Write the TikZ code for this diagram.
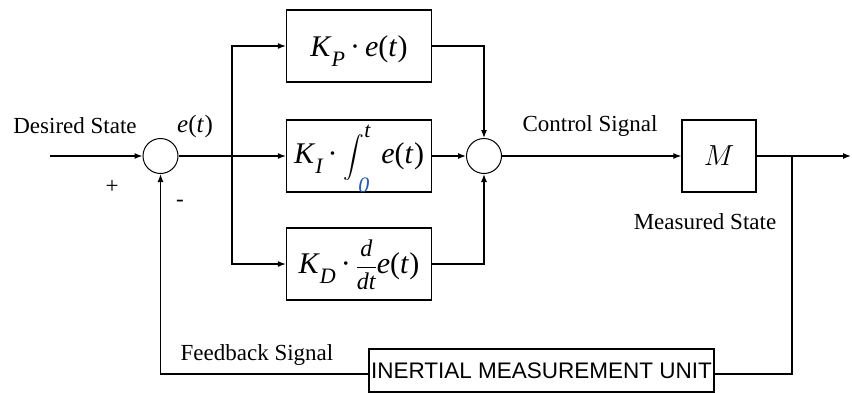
\RequirePackage{fix-cm}
\documentclass[tikz,border=0pt]{standalone}
\usepackage{amsmath}
\usepackage{fontspec}
\setmainfont{Liberation Serif}
\newfontfamily\imufont{Liberation Sans}
\usetikzlibrary{arrows.meta}
\definecolor{zeroblue}{rgb}{0.15,0.35,0.7}
\newcommand\subsz{\fontsize{22}{22}\selectfont}
\newcommand\mysub[1]{\raisebox{-10pt}{\subsz\itshape #1}}
\newcommand\myet{\textit{e}(\textit{t\kern1pt})}
\newcommand\mydot{\kern5pt\textperiodcentered\kern5pt}
\begin{document}
\begin{tikzpicture}[x=1pt,y=-1pt,
  blk/.style={draw, line width=1.3pt, minimum width=145pt, minimum height=72pt, inner sep=0pt, font=\fontsize{30}{34}\selectfont},
  sumc/.style={circle, draw, line width=1pt, minimum size=35pt, inner sep=0pt},
  wire/.style={line width=1.2pt},
  arr/.style={wire, -{Latex[length=8pt,width=6pt]}},
  lbl/.style={inner sep=0pt, font=\fontsize{23}{27}\selectfont}]
\useasboundingbox (0,0) rectangle (852,392);
\coordinate (in) at (50,156);
\node[sumc] (s1) at (160.5,156) {};
\coordinate (br) at (232,156);
\node[blk, text height=30pt, text depth=10pt] (P) at (359,46) {\textit{K}\mysub{P}\mydot\myet};
\node[blk, text height=40pt, text depth=26pt] (I) at (359,156) {\textit{K}\mysub{I}\mydot\kern1pt{\fontsize{22}{22}\selectfont$\displaystyle\int$}\makebox[0pt][l]{\raisebox{26pt}{\subsz\itshape t}}\kern-6pt\raisebox{-29pt}{\subsz\color{zeroblue}\itshape 0}\kern12pt\myet};
\node[blk, text height=30pt, text depth=12pt] (D) at (359,264) {\textit{K}\mysub{D}\mydot{\fontsize{24}{24}\selectfont$\dfrac{\mbox{\itshape d}}{\mbox{\itshape dt}}$}\myet};
\node[sumc] (s2) at (484,156) {};
\node[draw, line width=1.3pt, minimum width=74pt, minimum height=72pt, inner sep=0pt, font=\fontsize{29}{32}\selectfont] (M) at (719,156) {$M$};
\coordinate (out) at (851,156);
\coordinate (tap) at (792,156);
\coordinate (fbR) at (792,374);
\coordinate (fbL) at (160.5,374);
\node[draw, line width=1.3pt, minimum width=345pt, minimum height=43pt, inner sep=0pt, font=\imufont\fontsize{22.5}{26}\selectfont] (imu) at (541.5,370.5) {INERTIAL MEASUREMENT UNIT};
% labels
\node[lbl] (ds) at (75,126) {Desired State};
\node[lbl, font=\fontsize{25}{29}\selectfont] (et) at (195,126) {\myet};
\node[lbl] (plus) at (112,187) {+};
\node[lbl] (minus) at (180,203) {-};
\node[lbl] (cs) at (590,126) {Control Signal};
\node[lbl] (ms) at (705,222) {Measured State};
\node[lbl] (fs) at (257,355) {Feedback Signal};
% connectors
\draw[arr] (in) -- (s1);
\draw[wire] (s1) -- (br);
\draw[arr] (br) -- (I);
\draw[arr] (br) |- (P);
\draw[arr] (br) |- (D);
\draw[arr] (P) -| (s2);
\draw[arr] (D) -| (s2);
\draw[arr] (I) -- (s2);
\draw[arr] (s2) -- (M);
\draw[arr] (M) -- (out);
\draw[wire] (tap) -- (fbR) -- (imu.east |- fbR);
\draw[arr] (imu.west |- fbL) -- (fbL) -- (s1);
\end{tikzpicture}
\end{document}
